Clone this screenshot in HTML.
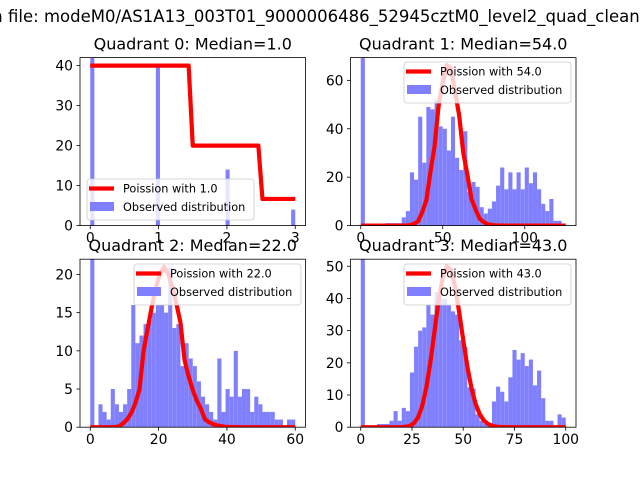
<!DOCTYPE html>
<html><head><meta charset="utf-8"><style>
body{margin:0;background:#fff}
svg{display:block;font-family:"DejaVu Sans","Liberation Sans",sans-serif}
</style></head><body>
<svg id="fig" width="640" height="480" viewBox="0 0 640 480" xmlns="http://www.w3.org/2000/svg">
<rect width="640" height="480" fill="#fff"/>
<text x="276" y="22" font-size="16.5" text-anchor="middle">Distribution on file: modeM0/AS1A13_003T01_9000006486_52945cztM0_level2_quad_clean.evt</text>
</svg>
<script>
// ---- data ----
const lambdas = [1.0, 54.0, 22.0, 43.0];
const curveScale = [108.7, 1223, 248, 824];
const binMax = [3, 125, 60, 100];
const yMaxes = [42, 69.4, 22, 52.2];
const q0Counts = [45,0,0,0,0,0,0,0,0,0,0,0,0,0,0,0,40,0,0,0,0,0,0,0,0,0,0,0,0,0,0,0,0,14,0,0,0,0,0,0,0,0,0,0,0,0,0,0,0,4];
const q1Counts = [75,0,0,0,0,0,1,1,1,1,3.4,6,22,19,45,26,49,48,52,41,40,31,45,28,23,39,14,18,16,7.6,5,7,10,16.5,24,15,22,15,22,15,24,17.5,22,15,9,6,11,2,2,0];
const q2Counts = [25,0,3,2,1,5,3,2,3,5,16,11,12,13.5,14,15,16,16,15,21,13,13.5,8,11,9,8,6,4,3,2,1,9,2,5,4,10,4,5,5,2,4,3,2,2,2,1,1,0,1,1];
const q3Counts = [60,0,0,0,1,1,1,2,5,2,6,5,17,25,30,31,38,35,42,40,40,38,36,35,27,25,12.4,12,4,2,1,1,8,12.6,11,8,15.5,24,21,23,19,21,13,17.6,9,2,2,0,4,3];
const xTicks = [[0,1,2,3],[0,50,100],[0,20,40,60],[0,25,50,75,100]];
const yTicks = [[0,10,20,30,40],[0,20,40,60],[0,5,10,15,20],[0,10,20,30,40,50]];
const titles = ["Quadrant 0: Median=1.0","Quadrant 1: Median=54.0","Quadrant 2: Median=22.0","Quadrant 3: Median=43.0"];
const legendLabels = ["Poission with 1.0","Poission with 54.0","Poission with 22.0","Poission with 43.0"];
const counts = [q0Counts,q1Counts,q2Counts,q3Counts];

const NS="http://www.w3.org/2000/svg";
const svg=document.getElementById('fig');
function mk(tag,attrs,parent){const e=document.createElementNS(NS,tag);for(const k in attrs)e.setAttribute(k,attrs[k]);(parent||svg).appendChild(e);return e;}
function pmf(k,l){let lp=-l+k*Math.log(l);for(let i=2;i<=k;i++)lp-=Math.log(i);return Math.exp(lp);}

const boxes=[[80,57.6],[350.5,57.6],[80,259.2],[350.5,259.2]];
const W=225.5,H=168;
const legPos=[[87,179],[404,62],[134,264],[404,264]];

for(let q=0;q<4;q++){
  const [L,T]=boxes[q];
  const g=mk('g',{});
  
  
  const xmin=-0.05*binMax[q], xmax=1.05*binMax[q];
  const X=v=>L+(v-xmin)/(xmax-xmin)*W;
  const Y=v=>T+H-v/yMaxes[q]*H;
  const cp=mk('clipPath',{id:'c'+q},g);mk('rect',{x:L,y:T,width:W,height:H},cp);
  const plot=mk('g',{'clip-path':'url(#c'+q+')'},g);
  const n=counts[q].length, bw=binMax[q]/n;
  counts[q].forEach((c,i)=>{
    if(c<=0)return;
    const r=mk('rect',{x:X(i*bw),y:Y(c),width:X((i+1)*bw)-X(i*bw),height:Y(0)-Y(c),fill:'rgb(128,128,255)'},plot);
    
    
  });
  let pts=[];
  for(let i=0;i<=n;i++){const x=i*bw;pts.push(X(x).toFixed(2)+','+Y(curveScale[q]*pmf(Math.round(x),lambdas[q])).toFixed(2));}
  const pl=mk('polyline',{points:pts.join(' '),fill:'none',stroke:'#f00','stroke-width':4.2,'stroke-linejoin':'round'},plot);
  
  
  mk('rect',{x:L,y:T,width:W,height:H,fill:'none',stroke:'#000','stroke-width':0.8},g);
  xTicks[q].forEach(t=>{
    mk('line',{x1:X(t),x2:X(t),y1:T+H,y2:T+H+3.5,stroke:'#000','stroke-width':0.8},g);
    const tx=mk('text',{x:X(t),y:T+H+17,'font-size':13.9,'text-anchor':'middle'},g);tx.textContent=t;
    
    
  });
  yTicks[q].forEach(t=>{
    mk('line',{x1:L,x2:L-3.5,y1:Y(t),y2:Y(t),stroke:'#000','stroke-width':0.8},g);
    const tx=mk('text',{x:L-7,y:Y(t)+5,'font-size':13.9,'text-anchor':'end'},g);tx.textContent=t;
    
    
  });
  const tt=mk('text',{x:L+W/2,y:T-8,'font-size':16,'text-anchor':'middle'},g);tt.textContent=titles[q];
  
  
  const [lx,ly]=legPos[q];
  const lg=mk('g',{},g);
  
  
  mk('rect',{x:lx,y:ly,width:167,height:41,rx:3,fill:'#fff','fill-opacity':0.8,stroke:'#ccc','stroke-width':0.8},lg);
  mk('line',{x1:lx+2,x2:lx+27,y1:ly+9.5,y2:ly+9.5,stroke:'#f00','stroke-width':4.2},lg);
  mk('rect',{x:lx+3,y:ly+23,width:24,height:9,fill:'rgb(128,128,255)'},lg);
  const t1=mk('text',{x:lx+36,y:ly+13.5,'font-size':11.3},lg);t1.textContent=legendLabels[q];
  
  
  const t2=mk('text',{x:lx+36,y:ly+32,'font-size':11.3},lg);t2.textContent='Observed distribution';
  
  
}
</script>
</body></html>
